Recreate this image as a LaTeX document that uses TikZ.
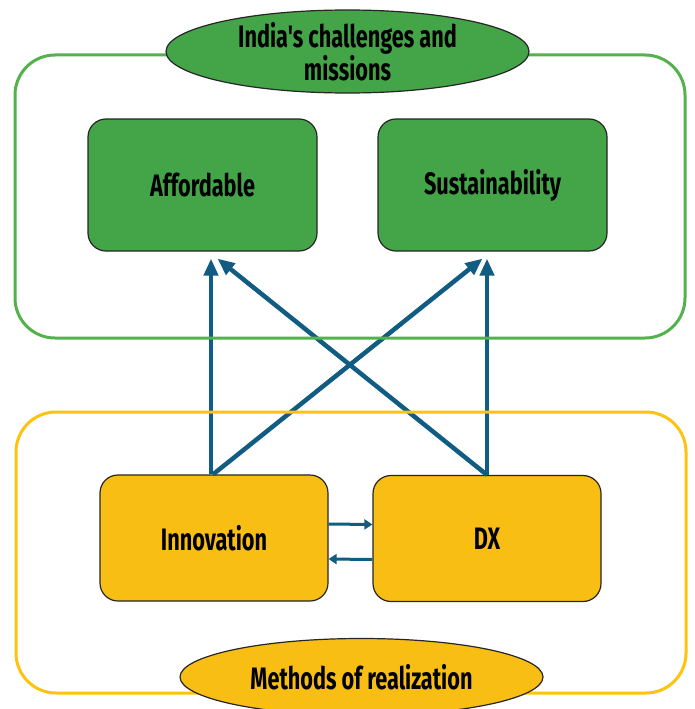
\documentclass[tikz,border=0pt]{standalone}
\usepackage{fontspec}
\newfontfamily\labelfont[FakeStretch=0.7]{Fira Sans}
\usetikzlibrary{arrows.meta,shapes.geometric,calc}
\definecolor{leafgreen}{RGB}{67,164,72}
\definecolor{framegreen}{RGB}{84,178,76}
\definecolor{amber}{RGB}{249,190,20}
\definecolor{frameamber}{RGB}{255,194,14}
\definecolor{petrol}{RGB}{16,92,130}
\begin{document}
\begin{tikzpicture}[x=1pt,y=-1pt,
  txt/.style={font=\labelfont\bfseries\fontsize{31}{30}\selectfont, text=black, align=center},
  goalbox/.style={txt, draw=black!85, line width=1.2pt, fill=leafgreen, rounded corners=18pt,
    minimum width=229pt, minimum height=132pt, inner sep=0pt},
  methbox/.style={txt, draw=black!85, line width=1.2pt, fill=amber, rounded corners=18pt,
    minimum width=228pt, minimum height=126pt, inner sep=0pt},
  tag/.style={txt, ellipse, draw=black!85, line width=1.2pt, minimum width=363pt,
    minimum height=77pt, inner sep=0pt},
  bigarrow/.style={petrol, line width=4.5pt, -{Triangle[length=17pt,width=14pt]}},
  smallarrow/.style={petrol, line width=3pt, -{Triangle[length=8pt,width=10pt]}},
  frame/.style={line width=3pt, rounded corners=40pt}]
\useasboundingbox (0,0) rectangle (694,709);
\fill[white] (0,0) rectangle (694,709);

% goal boxes
\node[goalbox] (aff) at (202.5,185) {Affordable};
\node[goalbox] (sus) at (492.5,185) {Sustainability};

% method boxes
\node[methbox] (inn) at (214,538) {Innovation};
\node[methbox] (dx) at (487,538.5) {DX};

% arrow targets just below the goal boxes
\coordinate (affup) at ([xshift=8pt,yshift=-7pt]aff.south);
\coordinate (affx) at ([xshift=15pt,yshift=-7pt]aff.south);
\coordinate (susx) at ([xshift=-10pt,yshift=-7pt]sus.south);
\coordinate (susup) at ([xshift=-4.5pt,yshift=-7pt]sus.south);
\coordinate (innv) at ([xshift=-3pt]inn.north);
\coordinate (innd) at ([xshift=-1pt]inn.north);

\draw[bigarrow] (innv) -- (innv |- affup);
\draw[bigarrow] (innd) -- (susx);
\draw[bigarrow] (dx.north) -- (affx);
\draw[bigarrow] (dx.north) -- (dx.north |- susup);

% exchange between the method boxes
\draw[smallarrow] ([yshift=14pt]inn.east) -- ([yshift=14pt]dx.west);
\draw[smallarrow] ([yshift=-21pt]dx.west) -- ([yshift=-21pt]inn.east);

% group frames
\draw[frame, framegreen] (15,55) rectangle (685,338);
\draw[frame, frameamber] (16,412) rectangle (686,693);

% group titles
\node[tag, fill=leafgreen] (goals) at (347.5,51.5) {India's challenges and\\missions};
\node[tag, fill=amber] (means) at (361.5,677) {Methods of realization};
\end{tikzpicture}
\end{document}
